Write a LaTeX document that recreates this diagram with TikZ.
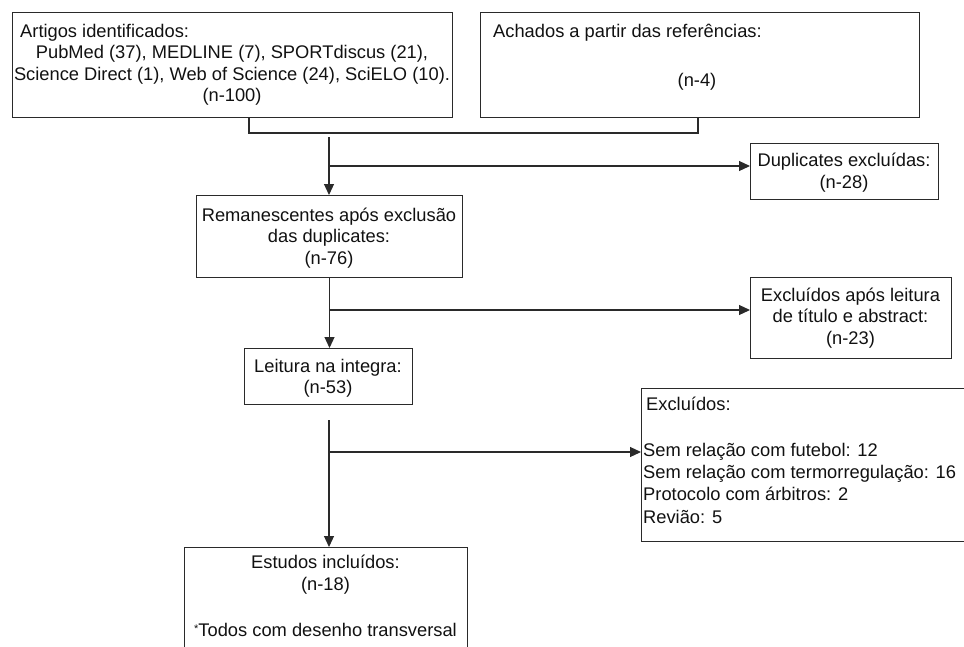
\documentclass[tikz,border=0pt]{standalone}
\usepackage{fontspec}
\setmainfont{Liberation Sans}
\usetikzlibrary{arrows.meta}
\definecolor{ln}{HTML}{2A2A2A}
\definecolor{tx}{HTML}{111111}
\begin{document}
\begin{tikzpicture}[x=1pt,y=-1pt,
  box/.style={draw=ln, line width=1pt, inner sep=0pt, anchor=north west},
  txt/.style={text=tx, inner sep=0pt, font=\fontsize{18.3}{21.5}\selectfont},
  cline/.style={draw=ln, line width=1.2pt},
  arr/.style={draw=ln, line width=1.2pt, -{Triangle[length=11pt,width=10pt]}}]
\useasboundingbox (0,0) rectangle (964,646);
% boxes
\node[box, minimum width=440pt, minimum height=105pt] (b1) at (12,12) {};
\node[box, minimum width=439pt, minimum height=105pt] (b2) at (480,12) {};
\node[box, minimum width=266pt, minimum height=82pt] (rem) at (196,195) {};
\node[box, minimum width=188pt, minimum height=56pt] (dup) at (750,143) {};
\node[box, minimum width=201pt, minimum height=81pt] (ex1) at (750,277) {};
\node[box, minimum width=168pt, minimum height=56pt] (lei) at (244,348) {};
\node[box, minimum width=340pt, minimum height=153pt] (ex2) at (641,388) {};
\node[box, minimum width=283pt, minimum height=130pt] (est) at (184,547) {};
% texts
\node[txt, anchor=base west] (t1a) at (20,37) {Artigos identificados:};
\node[txt, anchor=base] (t1b) at (232,58.5) {PubMed (37), MEDLINE (7), SPORTdiscus (21),};
\node[txt, anchor=base] (t1c) at (232,80) {Science Direct (1), Web of Science (24), SciELO (10).};
\node[txt, anchor=base] (t1d) at (232,101.5) {(n-100)};
\node[txt, anchor=base west] (t2a) at (493,37) {Achados a partir das referências:};
\node[txt, anchor=base] (t2b) at (697,86) {(n-4)};
\node[txt, anchor=base] (t3a) at (329,221) {Remanescentes após exclusão};
\node[txt, anchor=base] (t3b) at (329,242.5) {das duplicates:};
\node[txt, anchor=base] (t3c) at (329,264) {(n-76)};
\node[txt, anchor=base] (t4a) at (844,166) {Duplicates excluídas:};
\node[txt, anchor=base] (t4b) at (844,188) {(n-28)};
\node[txt, anchor=base] (t5a) at (850.5,301) {Excluídos após leitura};
\node[txt, anchor=base] (t5b) at (850.5,322.5) {de título e abstract:};
\node[txt, anchor=base] (t5c) at (850.5,344) {(n-23)};
\node[txt, anchor=base] (t6a) at (328,372) {Leitura na integra:};
\node[txt, anchor=base] (t6b) at (328,393.5) {(n-53)};
\node[txt, anchor=base west] (t7a) at (646,410) {Excluídos:};
\node[txt, anchor=base west] (t7b) at (643,456) {Sem relação com futebol: 12};
\node[txt, anchor=base west] (t7c) at (643,478) {Sem relação com termorregulação: 16};
\node[txt, anchor=base west] (t7d) at (643,500.5) {Protocolo com árbitros: 2};
\node[txt, anchor=base west] (t7e) at (643,523) {Revião: 5};
\node[txt, anchor=base] (t8a) at (325.5,568) {Estudos incluídos:};
\node[txt, anchor=base] (t8b) at (325.5,590) {(n-18)};
\node[txt, anchor=base] (t8c) at (325.5,636) {\raisebox{3.5pt}{\fontsize{11}{11}\selectfont *}Todos com desenho transversal};
% connectors
\coordinate (j1) at (329,133);
\coordinate (j1s) at (329,137);
\coordinate (k1) at (329,166);
\coordinate (k2) at (329,310);
\coordinate (j3) at (329,420);
\coordinate (k3) at (329,452);
\draw[cline] ([xshift=237pt]b1.south west) |- (j1) -| ([xshift=218pt]b2.south west);
\draw[arr] (j1s) -- (j1s |- rem.north);
\draw[arr] (k1) -- (k1 -| dup.west);
\draw[arr] (rem.south) -- (rem.south |- lei.north);
\draw[arr] (k2) -- (k2 -| ex1.west);
\draw[arr] (j3) -- (j3 |- est.north);
\draw[arr] (k3) -- (k3 -| ex2.west);
\end{tikzpicture}
\end{document}
